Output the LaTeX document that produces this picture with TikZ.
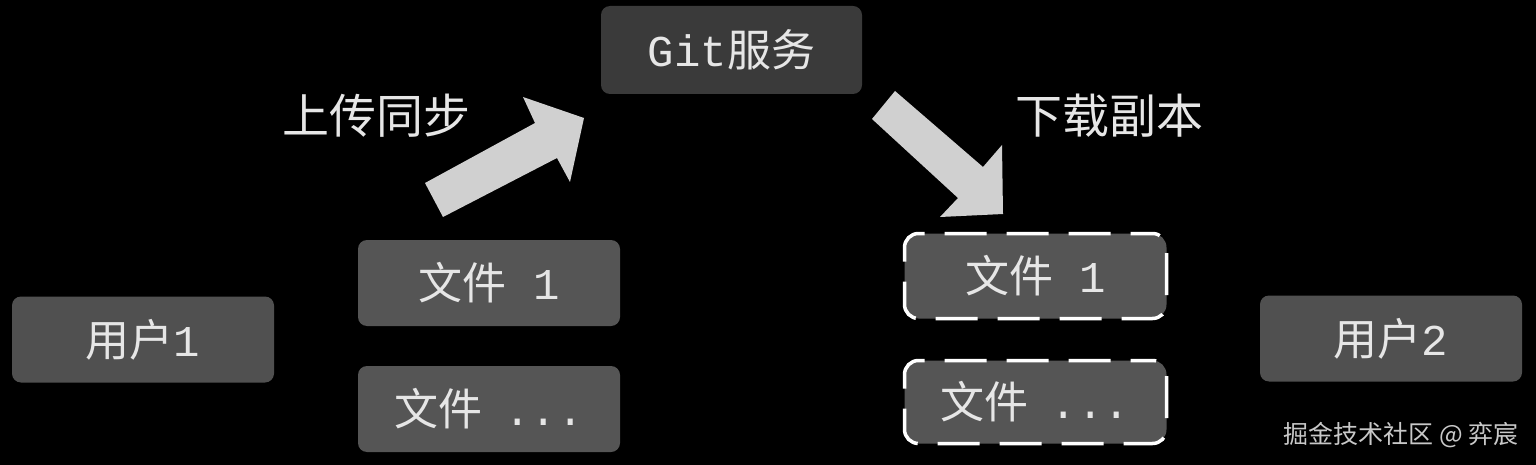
\documentclass[tikz,border=0pt]{standalone}
\usepackage{fontspec}
\newfontfamily\cjk{Noto Sans CJK SC}
\newfontfamily\lmono{Liberation Mono}
\definecolor{gitfill}{HTML}{3A3A3A}
\definecolor{boxfill}{HTML}{555555}
\definecolor{userfill}{HTML}{505050}
\definecolor{txt}{HTML}{E6E6E6}
\definecolor{arrowfill}{HTML}{D0D0D0}
\definecolor{wm}{HTML}{C8C8C8}
\begin{document}
\begin{tikzpicture}[x=1pt,y=-1pt,
  box/.style={rectangle, rounded corners=9pt, fill=boxfill, text=txt, inner sep=0pt,
    minimum width=262pt, minimum height=86pt, font=\fontsize{44}{48}\selectfont},
  dbox/.style={box, draw=white, line width=3.5pt, dash pattern=on 42pt off 20pt, dash phase=20pt, rounded corners=14pt},
  lbl/.style={text=txt, inner sep=0pt, font=\cjk\fontsize{47}{50}\selectfont},
  blockarrow/.style={fill=arrowfill, draw=none}]
\fill[black] (0,0) rectangle (1536,465);
\useasboundingbox (0,0) rectangle (1536,465);

\node[box, fill=gitfill, minimum width=261pt, minimum height=88pt] (git) at (731.5,50) {{\lmono Git}{\cjk 服务}};
\node[box, fill=userfill] (u1) at (143,339.5) {{\cjk 用户}{\lmono 1}};
\node[box] (f1l) at (489,283) {{\cjk 文件}\hspace{0.6em}{\lmono 1}};
\node[box] (fdl) at (489,409) {{\cjk 文件}\hspace{0.5em}{\lmono ...}};
\node[dbox, minimum width=262pt, minimum height=85pt] (f1r) at (1035.5,276) {{\cjk 文件}\hspace{0.6em}{\lmono 1}};
\node[dbox, minimum width=262pt, minimum height=83pt] (fdr) at (1035.5,402) {{\cjk 文件}\hspace{0.5em}{\lmono ...}};
\node[box, fill=userfill] (u2) at (1391,338.5) {{\cjk 用户}{\lmono 2}};

\node[lbl] (up) at (376,116) {上传同步};
\node[lbl] (down) at (1109,116) {下载副本};

\fill[blockarrow] (425,183) -- (535,123) -- (523,97) -- (584,118) -- (570,182) -- (557,158) -- (443,217) -- cycle;
\fill[blockarrow] (872,119) -- (895,91) -- (983,167) -- (1002,145) -- (1003,214) -- (940,217) -- (958,198) -- cycle;

\node[text=wm, inner sep=0pt, font=\cjk\fontsize{25}{28}\selectfont] (wmk) at (1401,435) {掘金技术社区 @ 弈宸};
\end{tikzpicture}
\end{document}
